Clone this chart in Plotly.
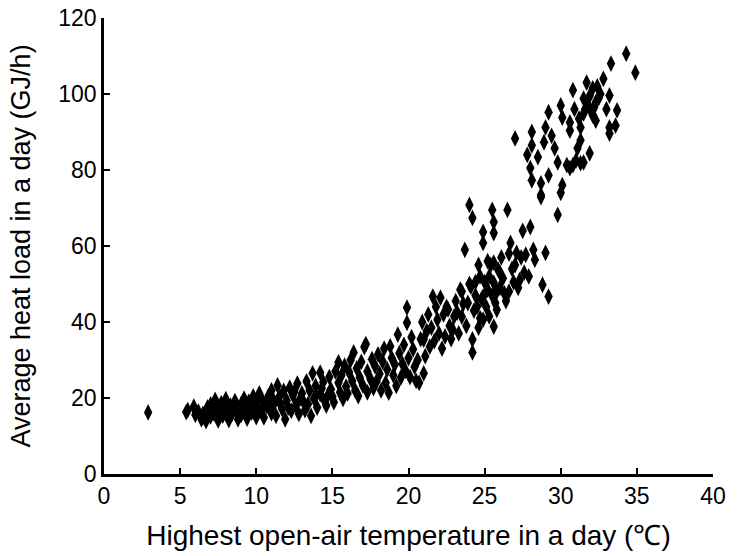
import plotly.graph_objects as go

# Highest open-air temperature in a day (deg C) and average heat load (GJ/h)
temp_low = [2.9, 5.4, 5.5, 5.9, 6.0, 6.2, 6.4, 6.5, 6.7, 6.8, 7.0, 7.0, 7.2, 7.3, 7.5, 7.5, 7.7, 7.8,
            8.0, 8.0, 8.2, 8.3, 8.4, 8.6, 8.7, 8.8, 9.0, 9.0, 9.2, 9.3, 9.4, 9.6, 9.7, 9.8, 10.0, 10.0,
            10.2, 10.3, 10.4, 10.5, 10.7, 10.8, 11.0, 11.0, 11.2, 11.3, 11.4, 11.5, 11.7, 11.8, 11.9,
            12.0, 12.2, 12.3, 12.4, 12.6, 12.7, 12.8, 13.0, 13.1, 13.2, 13.3, 13.5, 13.6, 13.7, 13.8,
            13.9, 14.0, 14.2, 14.2, 14.4, 14.5, 14.6, 14.8, 14.9, 15.0, 15.1, 15.2, 15.4, 15.4, 15.5,
            7.4, 7.9, 8.5, 9.1, 9.5, 9.9, 10.1, 10.6, 10.9, 11.1, 11.6, 12.1, 12.5, 12.9, 13.4, 13.9,
            14.3, 14.7]
load_low = [16.2, 16.3, 16.8, 17.7, 15.6, 16.4, 14.4, 15.8, 13.9, 17.5, 18.3, 15.2, 16.0, 19.5, 14.1, 17.2, 18.6, 15.4,
            19.7, 16.8, 14.2, 18.0, 15.8, 19.2, 16.5, 14.4, 18.3, 15.5, 19.8, 17.1, 14.6, 18.9, 16.2, 20.4, 15.0, 18.0,
            21.2, 16.8, 19.4, 14.9, 17.9, 20.5, 16.0, 22.0, 18.7, 15.3, 23.3, 20.2, 17.1, 21.9, 14.4,
            19.3, 22.7, 16.6, 20.8, 18.1, 23.8, 15.8, 21.2, 19.0, 16.8, 24.4, 22.0, 15.3, 26.5, 19.8,
            23.2, 17.5, 26.7, 21.0, 24.2, 19.2, 18.0, 25.5, 22.3, 20.4, 18.9, 27.0, 29.4, 24.0, 21.5,
            16.6, 17.8, 17.3, 16.8, 19.0, 17.5, 19.8, 18.5, 17.0, 19.6, 18.3, 17.5, 21.6, 19.9, 18.4, 20.7,
            22.5, 20.6]

temp_mid = [15.6, 15.7, 15.8, 15.9, 16.0, 16.1, 16.2, 16.3, 16.4, 16.5, 16.6, 16.7, 16.8, 16.9, 17.0, 17.1,
            17.2, 17.3, 17.3, 17.5, 17.6, 17.7, 17.8, 17.9, 18.0, 18.1, 18.2, 18.3, 18.4, 18.5, 18.6, 18.7,
            18.8, 18.9, 19.0, 19.1, 19.2, 19.3, 19.4, 19.5, 19.6, 19.7, 19.8, 19.9, 19.9, 20.0, 20.1, 20.2,
            20.3, 20.4, 20.5, 20.6, 20.7, 20.8, 20.9, 21.0, 21.0,
            21.1, 21.2, 21.3, 21.4, 21.5, 21.6, 21.7, 21.8, 21.9, 22.0, 22.1, 22.2, 22.3, 22.4, 22.5, 22.6,
            22.7, 22.8, 22.9, 23.0, 23.1, 23.2, 23.3, 23.4, 23.5, 23.5, 23.6, 23.7, 23.8, 23.9, 24.0, 24.0,
            24.1, 24.2, 24.2, 24.2, 24.3, 24.4, 24.5, 24.6, 24.7, 24.7, 24.8, 24.9, 24.9, 24.9, 24.9, 25.0]
load_mid = [26.0, 19.8, 28.5, 23.0, 21.2, 26.8, 30.0, 24.5, 32.0, 22.0, 27.8, 20.5, 25.4, 29.5, 23.3, 33.4,
            34.2, 21.5, 27.0, 25.0, 30.2, 22.6, 28.4, 24.4, 31.5, 26.4, 22.0, 29.6, 33.0, 24.0, 27.5, 21.4,
            33.6, 30.5, 26.0, 28.8, 23.2, 36.7, 31.8, 25.4, 29.0, 34.0, 27.2, 43.8, 39.8, 30.5, 25.5, 36.0,
            32.8, 28.2, 24.5, 30.0, 24.0, 35.5, 40.0, 35.4, 26.5,
            31.0, 37.6, 42.0, 33.5, 38.5, 46.7, 35.0, 44.0, 40.6, 37.0, 46.4, 33.0, 42.0, 36.2, 44.0, 43.3,
            39.0, 35.5, 38.0, 41.5, 45.5, 42.5, 37.0, 48.5, 48.0, 41.4, 44.8, 59.0, 39.0, 45.0, 70.8, 50.0,
            49.3, 67.4, 35.4, 32.0, 43.0, 47.0, 44.0, 38.5, 52.0, 41.0, 46.0, 63.7, 60.8, 40.6, 46.7, 50.5]

temp_high = [25.1, 25.2, 25.3, 25.4, 25.5, 25.5, 25.6, 25.6, 25.6, 25.6, 25.6, 25.7, 25.8, 25.9, 26.0,
             26.1, 26.2, 26.3, 26.5, 26.6, 26.7, 26.8, 26.9, 27.0, 27.0, 27.1, 27.2, 27.3, 27.4, 27.5,
             27.6, 27.7, 27.8, 27.9, 28.0, 28.0, 28.1, 28.1, 28.1, 28.2, 28.3, 28.5, 28.7, 28.7, 28.7,
             28.8, 28.9, 29.0, 29.0, 29.2, 29.2, 29.2, 29.4, 29.6, 29.8, 29.8, 30.0, 30.0,
             24.4, 25.3, 25.8, 26.4, 26.0, 26.6, 25.2, 24.6,
             30.1, 30.1, 30.4, 30.6, 30.6, 30.8, 30.8, 31.1, 31.3, 31.3, 31.3, 31.5, 31.5, 31.5, 31.7,
             31.8, 31.9, 32.0, 32.1, 32.1, 32.3, 32.3, 32.5, 32.6, 32.8, 33.0, 33.2, 33.2, 33.2, 33.3,
             33.6, 33.7, 34.3, 34.9,
             31.6, 31.9, 32.2, 31.2, 30.9, 32.4, 30.6, 31.0]
load_high = [44.0, 48.5, 41.5, 55.0, 69.5, 47.0, 66.3, 63.4, 55.6, 50.3, 38.8, 45.0, 43.2, 53.7, 49.0,
             57.0, 51.5, 47.5, 69.5, 48.0, 60.8, 54.0, 50.5, 55.0, 88.3, 58.2, 49.0, 51.0, 57.0, 64.0,
             53.0, 57.7, 84.0, 52.0, 65.0, 80.5, 77.3, 86.5, 90.0, 59.0, 56.4, 83.4, 73.4, 76.5, 72.9,
             49.8, 87.3, 58.2, 91.2, 46.7, 78.6, 95.2, 89.0, 85.7, 68.2, 82.0, 74.0, 97.0,
             50.5, 52.0, 48.0, 45.5, 53.0, 58.0, 56.0, 55.0,
             93.8, 76.0, 81.3, 92.5, 90.4, 101.0, 81.3, 85.7, 91.2, 87.8, 81.8, 98.8, 94.9, 82.0, 103.0,
             97.0, 84.4, 95.5, 101.5, 94.4, 97.8, 93.0, 99.0, 100.0, 104.0, 96.0, 99.6, 91.2, 89.6, 108.0,
             91.7, 95.7, 110.6, 105.6,
             96.0, 99.5, 96.5, 93.5, 96.0, 102.0, 80.5, 82.5]

x_ticks = [0, 5, 10, 15, 20, 25, 30, 35, 40]
y_ticks = [0, 20, 40, 60, 80, 100, 120]

temps = temp_low + temp_mid + temp_high
loads = load_low + load_mid + load_high

fig = go.Figure()
fig.add_trace(go.Scatter(
    x=temps, y=loads, mode="markers",
    marker=dict(symbol="diamond-tall", size=12, color="black", line=dict(width=0)),
    showlegend=False,
))

font_family = "Arial, Liberation Sans, sans-serif"
fig.update_layout(
    width=738, height=556,
    margin=dict(l=104, r=25, t=18, b=82),
    paper_bgcolor="white", plot_bgcolor="white",
    font=dict(family=font_family, color="black", size=23),
)
fig.update_xaxes(
    range=[0, 40], tickvals=x_ticks, ticktext=[str(v) for v in x_ticks],
    showline=True, linecolor="black", linewidth=2.5, showgrid=False, zeroline=False,
    ticks="inside", ticklen=6, tickwidth=1.5, tickcolor="black",
    tickfont=dict(size=23, family=font_family), automargin=False,
    title=dict(text="Highest open-air temperature in a day (℃)", font=dict(size=28, family=font_family), standoff=18),
)
fig.update_yaxes(
    range=[0, 120], tickvals=y_ticks, ticktext=[str(v) for v in y_ticks],
    showline=True, linecolor="black", linewidth=2.5, showgrid=False, zeroline=False,
    ticks="inside", ticklen=6, tickwidth=1.5, tickcolor="black",
    tickfont=dict(size=23, family=font_family), automargin=False,
    title=dict(text="Average heat load in a day (GJ/h)", font=dict(size=27, family=font_family), standoff=20),
)

fig.write_html("out.html")
